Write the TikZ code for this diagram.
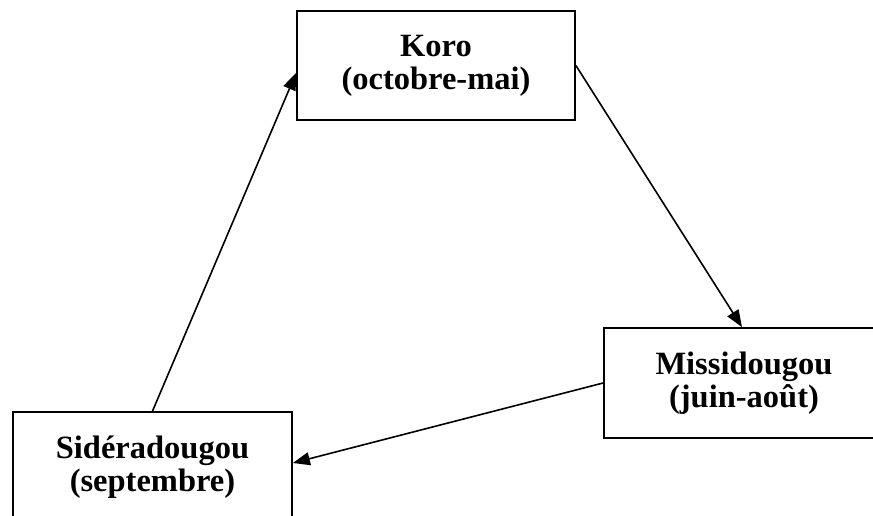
\documentclass[tikz,border=0pt]{standalone}
\usepackage{fontspec}
\setmainfont{Liberation Serif}
\usetikzlibrary{arrows.meta}
\begin{document}
\begin{tikzpicture}[x=1pt,y=-1pt,
  placebox/.style={draw=black, line width=1.8pt, fill=white, align=center,
    font=\fontsize{32.5}{33}\selectfont\bfseries, inner sep=0pt},
  flow/.style={draw=black, line width=1.6pt, -{Triangle[length=17pt,width=13pt]}}]
\useasboundingbox (0,0) rectangle (873,516);
\clip (0,0) rectangle (873,516);
\node[placebox, minimum width=278pt, minimum height=109pt] (koro) at (436,65.5) {Koro\\(octobre-mai)};
\node[placebox, minimum width=280pt, minimum height=110pt] (mis) at (744,383) {Missidougou\\(juin-août)};
\node[placebox, minimum width=279pt, minimum height=110pt] (sid) at (152.5,467) {Sidéradougou\\(septembre)};
\draw[flow] (sid.north) -- ([yshift=-7.5pt]koro.west);
\draw[flow] (koro.east) -- ([xshift=-2pt]mis.north);
\draw[flow] (mis.west) -- ([yshift=4pt]sid.east);
\end{tikzpicture}
\end{document}
